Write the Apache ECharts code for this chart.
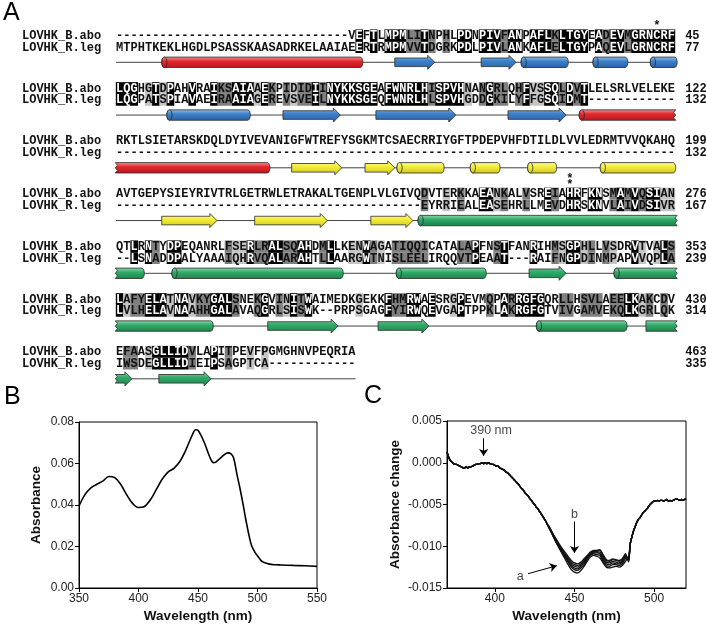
<!DOCTYPE html>
<html><head><meta charset="utf-8">
<script src="https://cdn.jsdelivr.net/npm/echarts@6/dist/echarts.min.js"></script>
<style>html,body{margin:0;padding:0;background:#fff}#c{width:706px;height:625px}</style>
</head><body><div id="c"></div>
<script>
// ---------------- Panel A data ----------------
const seqNames = ['LOVHK_B.abo', 'LOVHK_R.leg'];
const seqB = [
  '-'.repeat(32) + 'VEFTLMPMLITNPHLPDNPIVFANPAFLKLTGYEADEVMGRNCRF',
  'LQGHGTDPAHVRAIKSAIAAEKPIDIDIINYKKSGEAFWNRLHISPVHNANGRLQHFVSSQLDVTLELSRLVELEKE',
  'RKTLSIETARSKDQLDYIVEVANIGFWTREFYSGKMTCSAECRRIYGFTPDEPVHFDTILDLVVLEDRMTVVQKAHQ',
  'AVTGEPYSIEYRIVTRLGETRWLETRAKALTGENPLVLGIVQDVTERKKAEANKALVSREIAHRFKNSMAMVQSIAN',
  'QTLRNTYDPEQANRLFSERLRALSQAHDMLLKENWAGATIQQICATALAPFNSTFANRIHMSGPHLLVSDRVTVALS',
  'LAFYELATNAVKYGALSNEKGVINITWAIMEDKGEKKFHMRWAESRGPEVMQPARRGFGQRLLHSVLAEELKAKCDV',
  'EFAASGLLIDVLAPITPEVFPGMGHNVPEQRIA'
];
const seqR = [
  'MTPHTKEKLHGDLPSASSKAASADRKELAAIAEERTRMPMVVTDGRKPDLPIVLANKAFLELTGYPAQEVLGRNCRF',
  'LQGPATSPIAVAEIRAAIAGEREVSVEILNYKKSGEQFWNRLHLSPVHGDDGKILYFFGSQIDMT' + '-'.repeat(12),
  '-'.repeat(77),
  '-'.repeat(42) + 'EYRRIEALEASEHRLLMEVDHRSKNVLAIVDSIVR',
  '--LSNADDPALYAAAIQHRVQALARAHTLLAARGWTNISLEELIRQQVTPEAAT---RAIFNGPDINMPAPVVQPLA',
  'LVLHELAVNAAHHGALAVAQGRLSISWK--PRPSGAGFYIRWQEVGAPTPPKLAKRGFGTVIVGAMVEKQLKGRLQK',
  'IWSDEGLLIDIEIPSAGPTCA' + '-'.repeat(12)
];
const endB = [45, 122, 199, 276, 353, 430, 463];
const endR = [77, 132, 132, 167, 239, 314, 335];
const trackEnd = [77, 77, 77, 77, 77, 77, 33];
// asterisk markers: [block, column, count]
const markers = [[0, 75, 1], [3, 63, 2]];
// secondary structure: [block, startCol, endCol, kind(0 helix,1 strand), family(0 red,1 blue,2 yellow,3 green), leftEnd(0 normal,1 cut,2 flat), rightCut]
const ssElements = [
  [0, 6.3, 34.0, 0, 0, 0, 0], [0, 38.4, 43.9, 1, 1, 0, 0], [0, 50.3, 55.1, 1, 1, 0, 0],
  [0, 55.8, 62.3, 0, 1, 0, 0], [0, 65.7, 70.5, 0, 1, 0, 0], [0, 73.6, 77.3, 0, 1, 0, 0],
  [1, 7.0, 18.5, 0, 1, 0, 0], [1, 23.0, 30.9, 1, 1, 0, 0], [1, 35.8, 46.8, 1, 1, 0, 0],
  [1, 54.0, 62.0, 1, 1, 0, 0], [1, 63.8, 77.1, 0, 0, 0, 1],
  [2, -0.1, 21.2, 0, 0, 1, 0], [2, 24.2, 31.1, 1, 2, 0, 0], [2, 34.3, 38.4, 1, 2, 0, 0],
  [2, 38.7, 45.2, 0, 2, 0, 0], [2, 48.8, 52.9, 0, 2, 0, 0], [2, 56.7, 60.7, 0, 2, 0, 0],
  [2, 66.7, 77.1, 0, 2, 0, 0],
  [3, 6.3, 13.9, 1, 2, 0, 0], [3, 19.1, 29.1, 1, 2, 0, 0], [3, 35.1, 40.9, 1, 2, 0, 0],
  [3, 41.6, 77.3, 0, 3, 0, 1],
  [4, -0.1, 3.9, 0, 3, 1, 0], [4, 7.7, 31.3, 0, 3, 0, 0], [4, 38.6, 51.0, 0, 3, 0, 0],
  [4, 56.9, 62.0, 1, 3, 0, 0], [4, 68.6, 77.3, 0, 3, 0, 1],
  [5, -0.1, 13.4, 0, 3, 1, 0], [5, 20.9, 30.6, 1, 3, 0, 0], [5, 36.1, 43.1, 1, 3, 0, 0],
  [5, 57.9, 70.4, 0, 3, 0, 0], [5, 73.0, 77.3, 0, 3, 2, 1],
  [6, -0.1, 2.2, 1, 3, 1, 0], [6, 5.9, 13.1, 1, 3, 0, 0]
];

// ---------------- Panel B data ----------------
const bWave = [350,355,360,365,370,375,380,385,390,395,400,405,410,415,420,425,430,435,440,445,448,450,455,460,463,465,470,475,478,480,483,485,488,490,493,495,498,500,503,505,510,515,520,530,540,550];
const bAbs  = [0.0395,0.0450,0.0483,0.0500,0.0515,0.0537,0.0532,0.0500,0.0450,0.0408,0.0388,0.0393,0.0425,0.0475,0.0525,0.0560,0.0578,0.0612,0.0668,0.0735,0.0763,0.0760,0.0705,0.0630,0.0604,0.0607,0.0632,0.0651,0.0645,0.0625,0.0540,0.0488,0.0400,0.0335,0.0250,0.0205,0.0170,0.0155,0.0132,0.0124,0.0115,0.0112,0.0111,0.0109,0.0107,0.0104];

// ---------------- Panel C data ----------------
const cWaveLeft = [370,371,372,373,374,375,376,377,378,379,380,381,382,383,384,385,386,387,388,389,390,391,392,393,394,395,396,397,398,399,400,401,402,403,404,405,406,407,408,409,410,411,412,413,414,415,416,417,418,419,420,421,422,423,424,425,426,427,428,429,430,431,432,433];
const cLeft = [0.0013,0.0007,0.0003,0.0001,-0.0001,-0.0002,-0.0002,-0.0003,-0.0004,-0.0005,-0.0006,-0.0006,-0.0005,-0.0006,-0.0005,-0.0005,-0.0004,-0.0003,-0.0002,-0.0002,-0.0001,-0.0001,0.0000,-0.0001,0.0000,-0.0001,0.0000,-0.0001,-0.0002,-0.0002,-0.0003,-0.0004,-0.0004,-0.0006,-0.0007,-0.0008,-0.0009,-0.0011,-0.0012,-0.0014,-0.0016,-0.0018,-0.0020,-0.0022,-0.0024,-0.0026,-0.0029,-0.0031,-0.0033,-0.0036,-0.0038,-0.0040,-0.0043,-0.0045,-0.0048,-0.0050,-0.0053,-0.0055,-0.0058,-0.0061,-0.0064,-0.0067,-0.0070,-0.0074];
const cWaveMid = [434,436,438,440,442,444,446,448,450,452,454,456,458,460,462,464,466,468,470,472,474,476,478,480,482,484];
const cMidA  = [-0.0078,-0.0086,-0.0094,-0.0101,-0.0108,-0.0115,-0.0122,-0.0128,-0.0131,-0.0132,-0.0129,-0.0124,-0.0118,-0.0113,-0.0111,-0.0112,-0.0114,-0.0120,-0.0125,-0.0126,-0.0125,-0.0124,-0.0125,-0.0123,-0.0118,-0.0112];
const cMid2  = [-0.0078,-0.0085,-0.0093,-0.0100,-0.0107,-0.0113,-0.0119,-0.0125,-0.0128,-0.0129,-0.0126,-0.0122,-0.0116,-0.0111,-0.0109,-0.0110,-0.0111,-0.0118,-0.0123,-0.0124,-0.0122,-0.0122,-0.0123,-0.0121,-0.0115,-0.0114];
const cMid3  = [-0.0077,-0.0085,-0.0092,-0.0099,-0.0106,-0.0111,-0.0117,-0.0123,-0.0126,-0.0127,-0.0124,-0.0120,-0.0114,-0.0110,-0.0108,-0.0108,-0.0109,-0.0116,-0.0121,-0.0122,-0.0120,-0.0121,-0.0121,-0.0119,-0.0113,-0.0116];
const cMid4  = [-0.0077,-0.0084,-0.0091,-0.0098,-0.0104,-0.0110,-0.0116,-0.0121,-0.0124,-0.0125,-0.0122,-0.0118,-0.0113,-0.0109,-0.0107,-0.0107,-0.0107,-0.0114,-0.0119,-0.0120,-0.0118,-0.0119,-0.0120,-0.0118,-0.0112,-0.0117];
const cMid5  = [-0.0076,-0.0084,-0.0090,-0.0097,-0.0103,-0.0109,-0.0114,-0.0119,-0.0122,-0.0123,-0.0121,-0.0117,-0.0112,-0.0108,-0.0106,-0.0106,-0.0105,-0.0112,-0.0117,-0.0118,-0.0116,-0.0117,-0.0118,-0.0116,-0.0110,-0.0118];
const cMidB  = [-0.0076,-0.0083,-0.0090,-0.0096,-0.0102,-0.0107,-0.0112,-0.0117,-0.0120,-0.0121,-0.0119,-0.0115,-0.0111,-0.0107,-0.0105,-0.0105,-0.0104,-0.0110,-0.0116,-0.0117,-0.0115,-0.0116,-0.0117,-0.0115,-0.0109,-0.0119];
const cWaveRight = [485,486,487,488,489,490,491,492,493,494,495,496,497,498,499,500,501,502,503,504,505,506,507,508,509,510,511,512,513,514,515,516,517,518,519,520];
const cRight = [-0.0097,-0.0089,-0.0082,-0.0077,-0.0072,-0.0068,-0.0066,-0.0063,-0.0060,-0.0058,-0.0056,-0.0054,-0.0051,-0.0049,-0.0047,-0.0046,-0.0046,-0.0045,-0.0046,-0.0045,-0.0045,-0.0046,-0.0045,-0.0044,-0.0046,-0.0045,-0.0046,-0.0045,-0.0044,-0.0043,-0.0044,-0.0045,-0.0044,-0.0045,-0.0044,-0.0043];
const cMids = [cMidA, cMid2, cMid3, cMid4, cMid5, cMidB];
const cLabels = ['390 nm', 'b', 'a'];
const cLabelPos = [[397.7, 0.00384], [450, -0.00616], [416, -0.01361]];
const cArrows = [[[393, 0.00293], [393, 0.00082]], [[450, -0.00704], [450, -0.01082]], [[420.8, -0.01329], [438.9, -0.01233]]];

// ---------------- layout constants ----------------
const ROW0 = 35.3, BLOCK_STEP = 52.75, R_OFF = 11.8, SS_OFF = 27;
const LABEL_COL = -12.95, NUM_COL = 78.4;
const MONO = 'bold 12px "Liberation Mono", "DejaVu Sans Mono", monospace';
const SANS = '"Liberation Sans", Arial, sans-serif';
const shadeFill = [null, '#c4c4c4', '#7f7f7f', '#000000'];
const famStops = [
  ['#f39a9a', '#e4282e', '#b8161b'],
  ['#9cc3ea', '#3d82cb', '#275fa4'],
  ['#fdfcb0', '#f4ee3a', '#cfc61c'],
  ['#94dcb2', '#31ab6a', '#1c8249']
];
const strongG = ['STA','NEQK','NHQK','NDEQ','QHRK','MILV','MILF','HY','FYW'];
const weakG = ['CSA','ATV','SAG','STNK','STPA','SGND','SNDEQK','NDEQHK','NEQHRK','FVLIM','HFY'];
function shadeLevel(a, b) {
  if (!a || !b || a === '-' || b === '-') return 0;
  if (a === b) return 3;
  if (strongG.some(g => g.includes(a) && g.includes(b))) return 2;
  if (weakG.some(g => g.includes(a) && g.includes(b))) return 1;
  return 0;
}
function rowY(block, which) { return ROW0 + block * BLOCK_STEP + (which === 0 ? 0 : which === 1 ? R_OFF : SS_OFF); }

// residue cells
const cellData = [];
seqB.forEach((s, b) => {
  for (let r = 0; r < 2; r++) {
    const seq = r === 0 ? seqB[b] : seqR[b];
    for (let i = 0; i < seq.length; i++) cellData.push([i + 0.5, rowY(b, r), b, r, i]);
  }
});
const labelData = [];
seqB.forEach((s, b) => { for (let r = 0; r < 2; r++) { labelData.push([LABEL_COL, rowY(b, r), b, r, 0]); labelData.push([NUM_COL, rowY(b, r), b, r, 1]); } });
const markerData = [];
markers.forEach(m => { for (let k = 0; k < m[2]; k++) markerData.push([m[1] - 0.5, rowY(m[0], 0) - 9 - k * 5.5]); });
const trackData = trackEnd.map((e, b) => [0, e, rowY(b, 2)]);
const ssData = ssElements.map(e => [e[1], e[2], rowY(e[0], 2), e[3], e[4], e[5], e[6]]);

function grad(f) {
  const s = famStops[f];
  return new echarts.graphic.LinearGradient(0, 0, 0, 1, [{offset: 0, color: s[0]}, {offset: 0.4, color: s[1]}, {offset: 1, color: s[2]}]);
}
function arcPts(cx, cy, rx, ry, a0, a1, n) {
  const p = [];
  for (let k = 0; k <= n; k++) { const t = a0 + (a1 - a0) * k / n; p.push([cx + rx * Math.cos(t), cy + ry * Math.sin(t)]); }
  return p;
}
function zig(x, yTop, yBot, dir) {
  const h = yBot - yTop;
  return [[x, yTop], [x + dir * 2.2, yTop + h * 0.25], [x, yTop + h * 0.5], [x + dir * 2.2, yTop + h * 0.75], [x, yBot]];
}

function renderCell(params, api) {
  const b = api.value(2), r = api.value(3), i = api.value(4);
  const ch = (r === 0 ? seqB : seqR)[b][i];
  const other = (r === 0 ? seqR : seqB)[b][i];
  const s = shadeLevel(ch, other);
  const c = api.coord([api.value(0), api.value(1)]);
  const w = api.size([1, 0])[0];
  const h = api.size([0, R_OFF])[1];
  const kids = [];
  if (s > 0) kids.push({type: 'rect', shape: {x: c[0] - w / 2 - 0.2, y: c[1] - h / 2, width: w + 0.4, height: h}, style: {fill: shadeFill[s]}});
  kids.push({type: 'text', x: c[0], y: c[1] + 0.5, style: {text: ch, font: MONO, fill: s === 3 ? '#fff' : '#111', align: 'center', verticalAlign: 'middle'}});
  return {type: 'group', children: kids};
}
function renderLabel(params, api) {
  const b = api.value(2), r = api.value(3), kind = api.value(4);
  const c = api.coord([api.value(0), api.value(1)]);
  const txt = kind === 0 ? seqNames[r] : String(r === 0 ? endB[b] : endR[b]);
  return {type: 'text', x: c[0], y: c[1] + 0.5, style: {text: txt, font: MONO, fill: '#111', align: 'left', verticalAlign: 'middle'}};
}
function renderMarker(params, api) {
  const c = api.coord([api.value(0), api.value(1)]);
  return {type: 'text', x: c[0], y: c[1], style: {text: '*', font: MONO, fill: '#111', align: 'center', verticalAlign: 'middle'}};
}
function renderTrack(params, api) {
  const a = api.coord([api.value(0), api.value(2)]);
  const b = api.coord([api.value(1), api.value(2)]);
  return {type: 'line', shape: {x1: a[0], y1: a[1], x2: b[0], y2: b[1]}, style: {stroke: '#444', lineWidth: 1}};
}
function renderSS(params, api) {
  const p1 = api.coord([api.value(0), api.value(2)]);
  const p2 = api.coord([api.value(1), api.value(2)]);
  const kind = api.value(3), fam = api.value(4), cutL = api.value(5), cutR = api.value(6);
  const x1 = p1[0], x2 = p2[0], y = p1[1];
  const style = {fill: grad(fam), stroke: '#2a2a2a', lineWidth: 0.8};
  if (kind === 0) {
    const ry = 5.2, rx = 2.6;
    let pts = [];
    if (cutL === 1) pts = pts.concat(zig(x1, y + ry, y - ry, 1));
    else if (cutL === 2) pts.push([x1, y + ry], [x1, y - ry]);
    else pts = pts.concat(arcPts(x1 + rx, y, rx, ry, Math.PI / 2, Math.PI * 1.5, 10));
    if (cutR) pts = pts.concat(zig(x2, y - ry, y + ry, -1));
    else pts = pts.concat(arcPts(x2 - rx, y, rx, ry, -Math.PI / 2, Math.PI / 2, 10));
    const kids = [{type: 'polygon', shape: {points: pts}, style: style}];
    if (cutL === 0) kids.push({type: 'polygon', shape: {points: arcPts(x1 + rx, y, rx, ry, 0, Math.PI * 2, 20)}, style: {fill: grad(fam), stroke: '#2a2a2a', lineWidth: 0.8}});
    return {type: 'group', children: kids};
  } else {
    const bh = 4.3, hh = 7, hl = Math.min(7, (x2 - x1) * 0.6);
    let pts = [];
    if (cutL === 1) pts = pts.concat(zig(x1, y + bh, y - bh, 1));
    else pts.push([x1, y + bh], [x1, y - bh]);
    pts.push([x2 - hl, y - bh], [x2 - hl, y - hh], [x2, y], [x2 - hl, y + hh], [x2 - hl, y + bh]);
    return {type: 'polygon', shape: {points: pts}, style: style};
  }
}

// ---------------- panels B & C ----------------
function axisBase(extra) {
  const base = {
    axisLine: {show: true, onZero: false, lineStyle: {color: '#000', width: 1}},
    axisTick: {show: true, length: 4, inside: false, lineStyle: {color: '#000'}},
    axisLabel: {color: '#222', fontSize: 12, fontFamily: SANS, margin: 5},
    splitLine: {show: false},
    nameLocation: 'middle',
    nameTextStyle: {color: '#111', fontSize: 13.5, fontWeight: 'bold', fontFamily: SANS}
  };
  for (const k in extra) {
    if (base[k] && typeof base[k] === 'object' && !Array.isArray(base[k])) base[k] = Object.assign({}, base[k], extra[k]);
    else base[k] = extra[k];
  }
  return base;
}
const bSeriesData = bWave.map((w, i) => [w, bAbs[i]]);
const cSeries = cMids.map((mid, si) => {
  const d = [];
  cWaveLeft.forEach((w, i) => d.push([w, cLeft[i]]));
  cWaveMid.forEach((w, i) => d.push([w, mid[i]]));
  cWaveRight.forEach((w, i) => d.push([w, cRight[i]]));
  return {type: 'line', xAxisIndex: 2, yAxisIndex: 2, data: d, showSymbol: false, symbol: 'none', smooth: 0.2,
    lineStyle: {color: '#111', width: 1.3}, z: 3, silent: true};
});

const chart = echarts.init(document.getElementById('c'), null, {renderer: 'canvas'});
chart.setOption({
  animation: false,
  backgroundColor: '#fff',
  grid: [
    {left: 116, top: 0, width: 559, height: 400, show: false},
    {left: 79, top: 422, width: 238, height: 166, show: true, borderColor: '#000', borderWidth: 1, backgroundColor: 'transparent'},
    {left: 447, top: 421, width: 239, height: 167, show: true, borderColor: '#000', borderWidth: 1, backgroundColor: 'transparent'}
  ],
  xAxis: [
    {gridIndex: 0, type: 'value', min: 0, max: 77, show: false},
    axisBase({gridIndex: 1, type: 'value', min: 350, max: 550, interval: 50, name: 'Wavelength (nm)', nameGap: 21}),
    axisBase({gridIndex: 2, type: 'value', min: 370, max: 520, name: 'Wavelength (nm)', nameGap: 21,
      axisTick: {customValues: [400, 450, 500]}, axisLabel: {customValues: [400, 450, 500]}})
  ],
  yAxis: [
    {gridIndex: 0, type: 'value', min: 0, max: 400, inverse: true, show: false},
    axisBase({gridIndex: 1, type: 'value', min: 0, max: 0.08, interval: 0.02, name: 'Absorbance', nameGap: 36,
      axisLabel: {formatter: v => v.toFixed(2)}}),
    axisBase({gridIndex: 2, type: 'value', min: -0.015, max: 0.005, interval: 0.005, name: 'Absorbance change', nameGap: 45,
      axisLabel: {formatter: v => (Math.abs(v) < 1e-9 ? 0 : v).toFixed(3)}})
  ],
  graphic: [
    {type: 'text', left: 3, top: 1, style: {text: 'A', font: '25px ' + SANS, fill: '#000'}},
    {type: 'text', left: 4, top: 385, style: {text: 'B', font: '25px ' + SANS, fill: '#000'}},
    {type: 'text', left: 364, top: 384, style: {text: 'C', font: '25px ' + SANS, fill: '#000'}}
  ],
  series: [
    {type: 'custom', xAxisIndex: 0, yAxisIndex: 0, renderItem: renderTrack, data: trackData, silent: true, z: 1},
    {type: 'custom', xAxisIndex: 0, yAxisIndex: 0, renderItem: renderSS, data: ssData, silent: true, z: 2},
    {type: 'custom', xAxisIndex: 0, yAxisIndex: 0, renderItem: renderCell, data: cellData, silent: true, z: 2},
    {type: 'custom', xAxisIndex: 0, yAxisIndex: 0, renderItem: renderLabel, data: labelData, silent: true, z: 2},
    {type: 'custom', xAxisIndex: 0, yAxisIndex: 0, renderItem: renderMarker, data: markerData, silent: true, z: 2},
    {type: 'line', xAxisIndex: 1, yAxisIndex: 1, data: bSeriesData, showSymbol: false, symbol: 'none', smooth: 0.35,
      lineStyle: {color: '#000', width: 1.6}, silent: true},
    ...cSeries,
    {type: 'scatter', xAxisIndex: 2, yAxisIndex: 2, symbolSize: 1, itemStyle: {color: 'rgba(0,0,0,0)'}, silent: true, z: 5,
      data: cLabelPos.map((p, i) => ({value: p, name: cLabels[i]})),
      label: {show: true, position: 'inside', formatter: p => p.name, color: '#111', fontSize: 12.5, fontFamily: SANS},
      markLine: {silent: true, symbol: ['none', 'arrow'], symbolSize: 7, label: {show: false},
        lineStyle: {color: '#000', width: 1, type: 'solid'},
        data: cArrows.map(a => [{coord: a[0]}, {coord: a[1]}])}}
  ]
});
</script></body></html>
